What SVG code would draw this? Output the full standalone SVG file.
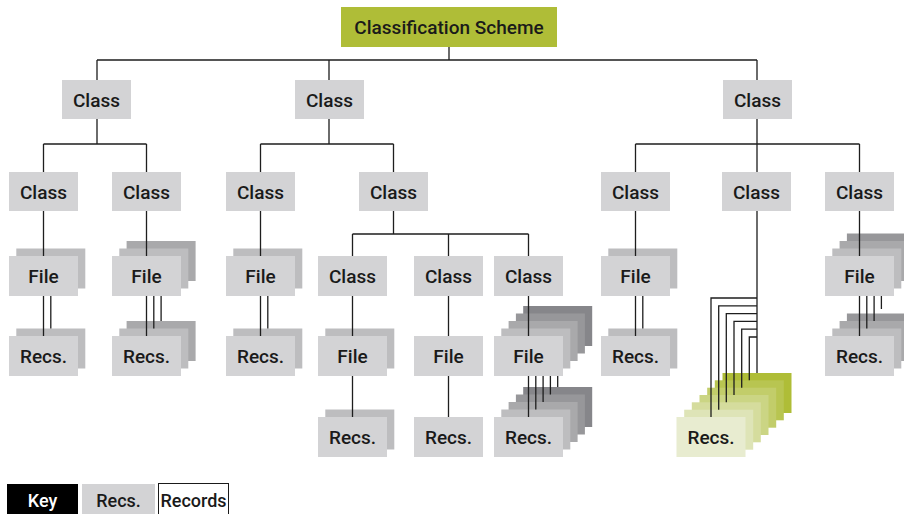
<svg xmlns="http://www.w3.org/2000/svg" width="904" height="514" viewBox="0 0 904 514">
<style>
text{font-family:Roboto,"Liberation Sans",sans-serif;font-size:19px;font-weight:500;fill:#1a1a1a;text-anchor:middle}
.g0{fill:#d3d3d5}.g1{fill:#bdbdbf}.g2{fill:#a9a9ab}.g3{fill:#97979a}.g4{fill:#86868a}
.v0{fill:#e8ecd0}.v1{fill:#dee4b7}.v2{fill:#d5dc9d}.v3{fill:#cbd584}.v4{fill:#c2cd6a}.v5{fill:#b8c551}.v6{fill:#afbd37}
.c path{fill:none;stroke:#1e1e1e;stroke-width:1.3}
.k{font-size:18px}
</style>
<rect width="904" height="514" fill="#ffffff"/>
<g id="scheme"><rect class="v6" x="341" y="7" width="216" height="40"/><text x="449" y="34">Classification Scheme</text></g>
<g id="class-1"><rect class="g0" x="62" y="80" width="69" height="39"/><text x="96.5" y="107">Class</text></g>
<g id="class-2"><rect class="g0" x="295" y="80" width="69" height="39"/><text x="329.5" y="107">Class</text></g>
<g id="class-3"><rect class="g0" x="723" y="80" width="69" height="39"/><text x="757.5" y="107">Class</text></g>
<g id="class-1a"><rect class="g0" x="9" y="172" width="69" height="39"/><text x="43.5" y="199">Class</text></g>
<g id="class-1b"><rect class="g0" x="112" y="172" width="69" height="39"/><text x="146.5" y="199">Class</text></g>
<g id="class-2a"><rect class="g0" x="226" y="172" width="69" height="39"/><text x="260.5" y="199">Class</text></g>
<g id="class-2b"><rect class="g0" x="359" y="172" width="69" height="39"/><text x="393.5" y="199">Class</text></g>
<g id="class-3a"><rect class="g0" x="601" y="172" width="69" height="39"/><text x="635.5" y="199">Class</text></g>
<g id="class-3b"><rect class="g0" x="722" y="172" width="69" height="39"/><text x="756.5" y="199">Class</text></g>
<g id="class-3c"><rect class="g0" x="825" y="172" width="69" height="39"/><text x="859.5" y="199">Class</text></g>
<g id="class-2b1"><rect class="g0" x="318" y="256" width="69" height="40"/><text x="352.5" y="283">Class</text></g>
<g id="class-2b2"><rect class="g0" x="414" y="256" width="69" height="40"/><text x="448.5" y="283">Class</text></g>
<g id="class-2b3"><rect class="g0" x="494" y="256" width="69" height="40"/><text x="528.5" y="283">Class</text></g>

<g id="file-a"><rect class="g1" x="16.3" y="248.5" width="69" height="40"/><rect class="g0" x="9" y="256" width="69" height="40"/><text x="43.5" y="283">File</text></g>
<g id="recs-a"><rect class="g1" x="16.3" y="328.5" width="69" height="40"/><rect class="g0" x="9" y="336" width="69" height="40"/><text x="43.5" y="363">Recs.</text></g>
<g id="file-b"><rect class="g2" x="126.6" y="241" width="69" height="40"/><rect class="g1" x="119.3" y="248.5" width="69" height="40"/><rect class="g0" x="112" y="256" width="69" height="40"/><text x="146.5" y="283">File</text></g>
<g id="recs-b"><rect class="g2" x="126.6" y="321" width="69" height="40"/><rect class="g1" x="119.3" y="328.5" width="69" height="40"/><rect class="g0" x="112" y="336" width="69" height="40"/><text x="146.5" y="363">Recs.</text></g>
<g id="file-c"><rect class="g1" x="233.3" y="248.5" width="69" height="40"/><rect class="g0" x="226" y="256" width="69" height="40"/><text x="260.5" y="283">File</text></g>
<g id="recs-c"><rect class="g1" x="233.3" y="328.5" width="69" height="40"/><rect class="g0" x="226" y="336" width="69" height="40"/><text x="260.5" y="363">Recs.</text></g>
<g id="file-d1"><rect class="g1" x="325.3" y="328.5" width="69" height="40"/><rect class="g0" x="318" y="336" width="69" height="40"/><text x="352.5" y="363">File</text></g>
<g id="recs-d1"><rect class="g1" x="325.3" y="409.5" width="69" height="40"/><rect class="g0" x="318" y="417" width="69" height="40"/><text x="352.5" y="444">Recs.</text></g>
<g id="file-d2"><rect class="g0" x="414" y="336" width="69" height="40"/><text x="448.5" y="363">File</text></g>
<g id="recs-d2"><rect class="g0" x="414" y="417" width="69" height="40"/><text x="448.5" y="444">Recs.</text></g>
<g id="file-d3"><rect class="g4" x="523.2" y="306" width="69" height="40"/><rect class="g3" x="515.9" y="313.5" width="69" height="40"/><rect class="g2" x="508.6" y="321" width="69" height="40"/><rect class="g1" x="501.3" y="328.5" width="69" height="40"/><rect class="g0" x="494" y="336" width="69" height="40"/><text x="528.5" y="363">File</text></g>
<g id="recs-d3"><rect class="g4" x="523.2" y="387" width="69" height="40"/><rect class="g3" x="515.9" y="394.5" width="69" height="40"/><rect class="g2" x="508.6" y="402" width="69" height="40"/><rect class="g1" x="501.3" y="409.5" width="69" height="40"/><rect class="g0" x="494" y="417" width="69" height="40"/><text x="528.5" y="444">Recs.</text></g>
<g id="file-e"><rect class="g1" x="608.3" y="248.5" width="69" height="40"/><rect class="g0" x="601" y="256" width="69" height="40"/><text x="635.5" y="283">File</text></g>
<g id="recs-e"><rect class="g1" x="608.3" y="328.5" width="69" height="40"/><rect class="g0" x="601" y="336" width="69" height="40"/><text x="635.5" y="363">Recs.</text></g>
<g id="recs-f"><rect class="v6" x="722.5" y="373" width="69" height="40"/><rect class="v5" x="714.8" y="380.3" width="69" height="40"/><rect class="v4" x="707.2" y="387.7" width="69" height="40"/><rect class="v3" x="699.5" y="395" width="69" height="40"/><rect class="v2" x="691.8" y="402.3" width="69" height="40"/><rect class="v1" x="684.2" y="409.7" width="69" height="40"/><rect class="v0" x="676.5" y="417" width="69" height="40"/><text x="711" y="444">Recs.</text></g>
<g id="file-g"><rect class="g3" x="846.9" y="233.5" width="69" height="40"/><rect class="g2" x="839.6" y="241" width="69" height="40"/><rect class="g1" x="832.3" y="248.5" width="69" height="40"/><rect class="g0" x="825" y="256" width="69" height="40"/><text x="859.5" y="283">File</text></g>
<g id="recs-g"><rect class="g3" x="846.9" y="313.5" width="69" height="40"/><rect class="g2" x="839.6" y="321" width="69" height="40"/><rect class="g1" x="832.3" y="328.5" width="69" height="40"/><rect class="g0" x="825" y="336" width="69" height="40"/><text x="859.5" y="363">Recs.</text></g>

<g id="connectors" class="c">
<path d="M449 47V60M97 60H757M97 60V80M329 60V80M757 60V80"/>
<path d="M97 119V144M43.5 144H146.5M43.5 144V172M146.5 144V172"/>
<path d="M329 119V144M260.5 144H393.5M260.5 144V172M393.5 144V172"/>
<path d="M757 119V144M635.5 144H859.5M635.5 144V172M757 144V172M859.5 144V172"/>
<path d="M43.5 211V256M146.5 211V256M260.5 211V256M635.5 211V256M859.5 211V256"/>
<path d="M393.5 211V234M352.5 234H528.5M352.5 234V256M448.5 234V256M528.5 234V256"/>
<path d="M352.5 296V336M448.5 296V336M528.5 296V336"/>
<path d="M43.5 296V336M50.8 296V328.5"/>
<path d="M146.5 296V336M153.8 296V328.5M161.1 296V321"/>
<path d="M260.5 296V336M267.8 296V328.5"/>
<path d="M352.5 376V417M448.5 376V417"/>
<path d="M528.5 376V417M535.8 376V409.5M543.1 376V402M550.4 376V394.5M557.7 376V387"/>
<path d="M635.5 296V336M642.8 296V328.5"/>
<path d="M859.5 296V336M866.8 296V328.5M874.1 296V321M881.4 296V309"/>
<path d="M757 211V373M757 298H711V417M757 305.8H718.7V409.7M757 313.6H726.3V402.3M757 321.4H734V395M757 329.2H741.7V387.7M757 337H749.3V380.3"/>
</g>

<g id="key"><rect x="7" y="484" width="71" height="30" fill="#000000"/><text class="k" x="42.5" y="507" style="fill:#ffffff">Key</text></g>
<g id="key-recs"><rect class="g0" x="82" y="484" width="73" height="30"/><text class="k" x="118.5" y="507">Recs.</text></g>
<g id="key-records"><rect x="158.5" y="483.5" width="70" height="31" fill="#ffffff" stroke="#1a1a1a" stroke-width="1"/><text class="k" x="193.5" y="507">Records</text></g>
</svg>
